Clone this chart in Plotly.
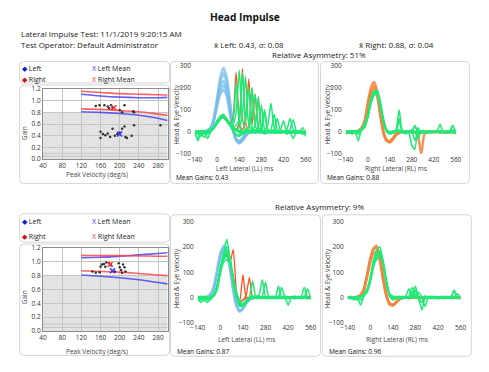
import plotly.graph_objects as go

# ---------------- DATA ----------------
T = [-140,-120,-100,-80,-60,-40,-20,0,20,40,60,80,100,120,140,160,180,200,220,240,260,280,300,320,340,360,380,400,420,440,460,480,500,520,540,560]

top_left_vel  = [160,160,165,170,175,180,185,190,195,200,205,210,212,215,225,230,285]
top_left_gain = [0.47,0.36,0.43,0.41,0.44,0.38,0.52,0.40,0.43,0.45,0.52,0.56,0.38,0.36,0.40,0.58,0.58]
top_right_vel  = [150,158,168,175,178,182,185,200,205,210,228,230]
top_right_gain = [0.91,0.92,0.92,0.90,0.87,0.92,0.88,0.84,0.80,0.92,0.82,0.80]
top_left_mean = (200, 0.43)
top_right_mean = (188, 0.88)

bot_vel  = [143,150,158,160,163,167,170,172,178,182,190,198,200,203,207,210,212,205]
bot_gain = [0.86,0.84,0.85,0.93,0.96,0.97,0.93,0.99,0.98,0.95,0.86,0.98,0.92,0.88,0.96,0.92,0.86,0.84]
bot_left_mean = (185, 0.87)
bot_right_mean = (180, 0.96)

norm_x = [120,160,200,240,280,300]
top_up_red  = [1.16,1.14,1.12,1.11,1.10,1.095]
top_up_blue = [1.11,1.08,1.06,1.05,1.05,1.055]
top_lo_red  = [0.86,0.85,0.83,0.81,0.77,0.75]
top_lo_blue = [0.81,0.80,0.78,0.75,0.70,0.66]
bot_up_red  = [1.095,1.09,1.09,1.085,1.08,1.08]
bot_up_blue = [1.06,1.065,1.08,1.10,1.12,1.13]
bot_lo_red  = [0.87,0.86,0.85,0.83,0.81,0.80]
bot_lo_blue = [0.81,0.79,0.77,0.74,0.70,0.68]

ll1_head_a = [0,0,0,1,4,15,60,150,245,290,250,150,30,-35,-50,-40,-20,-5,0,0,0,0,0,0,0,0,0,0,0,0,0,0,0,0,0,0]
ll1_head_b = [0,0,1,2,5,15,55,140,225,265,225,130,20,-38,-52,-38,-18,-4,0,0,0,0,0,0,0,0,0,0,0,0,0,0,0,0,0,0]
ll1_head_c = [0,0,0,2,6,18,60,135,205,230,195,110,15,-35,-48,-35,-15,-3,0,0,0,0,0,0,0,0,0,0,0,0,0,0,0,0,0,0]
ll1_head_d = [0,0,0,3,8,20,58,125,185,210,180,95,10,-30,-45,-30,-12,-2,0,0,0,0,0,0,0,0,0,0,0,0,0,0,0,0,0,0]
ll1_head_e = [0,0,0,2,6,18,50,115,170,190,165,85,5,-30,-40,-28,-10,-2,0,0,0,0,0,0,0,0,0,0,0,0,0,0,0,0,0,0]
ll1_sac_a = [0,0,0,0,0,5,20,45,60,65,50,30,60,270,60,0,5,0,0,0,0,0,0,0,0,0,0,0,0,0,0,0,0,0,0,0]
ll1_sac_b = [0,0,0,0,0,5,20,45,60,65,50,30,20,10,40,285,40,5,0,0,0,0,0,0,0,0,0,0,0,0,0,0,0,0,0,0]
ll1_sac_c = [0,0,0,0,0,5,20,45,60,65,50,30,20,10,5,10,60,240,30,170,20,0,0,0,0,0,0,0,0,0,0,0,0,0,0,0]
ll1_sac_d = [0,0,0,0,0,5,20,45,60,65,50,30,20,10,5,0,5,20,200,30,150,10,0,0,0,0,0,0,0,0,0,0,0,0,0,0]
ll1_eye_a = [-5,-30,0,-10,0,5,20,45,65,75,60,40,30,90,280,60,10,5,0,5,0,-5,0,5,0,-5,0,5,0,-5,0,5,0,-5,0,-5]
ll1_eye_b = [0,-10,-20,0,5,10,25,50,70,70,55,35,20,30,60,270,40,200,20,5,0,5,-10,0,5,0,-5,0,5,-10,0,0,5,0,-5,0]
ll1_eye_c = [-10,0,-5,-25,0,5,15,40,60,65,50,30,15,10,20,80,250,30,10,0,20,120,10,0,-5,5,0,-5,0,5,0,-5,0,5,0,-10]
ll1_eye_d = [5,-5,0,0,-30,0,20,40,60,70,55,35,20,10,5,0,10,20,80,170,20,0,5,30,130,20,0,-5,0,10,60,10,0,-5,0,-20]
ll1_eye_e = [0,5,-10,0,0,10,25,50,65,70,50,30,15,5,0,-10,0,5,10,30,160,15,0,5,10,80,10,0,5,0,10,55,5,0,-10,0]
ll1_eye_f = [-5,0,5,-5,0,5,20,45,60,70,55,40,20,10,-5,-10,5,20,200,30,0,0,-5,0,5,10,60,5,0,-5,0,0,-5,0,20,-10]
ll1_eye_g = [0,-5,0,5,-5,10,25,45,70,80,60,40,50,220,40,0,-5,0,5,10,0,20,100,10,0,5,0,10,50,0,-5,0,5,0,-5,0]
ll1_eye_h = [0,0,-5,0,0,5,20,40,60,75,60,35,10,-15,-20,-10,0,5,0,-5,0,5,0,-5,5,0,0,-5,0,5,-5,0,0,5,-10,-5]
ll1_eye_i = [-5,-40,0,5,-10,5,15,35,55,70,55,30,5,-10,-15,0,5,0,-5,0,5,0,90,0,0,-5,0,5,0,-5,0,-30,0,5,0,-10]

rl1_head_a = [0,0,0,2,5,15,50,130,200,225,185,90,0,-40,-48,-35,-15,-5,0,0,0,0,0,-20,-100,-10,0,0,0,0,0,0,0,0,0,0]
rl1_head_b = [0,0,0,2,5,15,45,120,185,205,170,80,-5,-38,-45,-30,-12,-4,0,0,0,0,0,0,0,0,0,0,0,0,0,0,0,0,0,0]
rl1_head_c = [0,0,0,2,6,18,45,115,170,190,160,75,-5,-35,-42,-28,-10,-3,0,0,0,0,0,0,0,0,0,0,0,0,0,0,0,0,0,0]
rl1_eye_a = [-5,0,-10,0,5,10,25,70,140,180,185,130,50,5,-5,0,10,100,0,5,0,-5,0,0,5,0,-5,0,0,5,0,-5,0,5,0,-10]
rl1_eye_b = [0,-5,0,5,-5,15,30,75,135,170,180,120,45,0,-10,-5,0,50,5,-10,0,-60,-80,20,-5,0,5,0,0,0,5,0,0,-5,0,-5]
rl1_eye_c = [-10,0,5,0,-40,10,20,60,130,175,190,140,60,10,0,5,0,10,0,0,5,0,30,-10,0,0,-5,5,0,0,35,0,5,0,30,0]
rl1_eye_d = [0,5,0,-5,0,15,35,80,150,185,175,115,40,0,-5,0,5,0,-5,0,0,10,-40,0,-5,0,0,-5,0,0,5,0,-5,0,10,-5]
rl1_eye_e = [5,0,-5,0,-10,5,20,65,125,165,170,125,55,10,0,-5,0,60,0,0,-5,0,0,-30,0,5,0,0,5,0,0,0,-5,0,25,0]
rl1_eye_f = [0,-5,0,0,5,10,30,75,145,175,180,120,45,5,-5,0,0,5,0,5,0,0,25,0,-5,0,0,5,0,0,-5,0,0,5,0,-5]

ll2_head_a = [0,0,0,2,10,35,100,170,205,195,130,40,-30,-55,-45,-25,-10,-3,0,0,0,0,0,0,0,0,0,0,0,0,0,0,0,0,0,0]
ll2_head_b = [0,0,2,5,15,45,110,175,200,180,110,25,-35,-55,-40,-20,-8,0,0,0,0,0,0,0,0,0,0,0,0,0,0,0,0,0,0,0]
ll2_head_c = [0,0,0,3,12,40,100,160,185,170,115,35,-25,-50,-42,-22,-8,-2,0,0,0,0,0,0,0,0,0,0,0,0,0,0,0,0,0,0]
ll2_sac_a = [0,0,0,0,0,10,40,110,160,170,140,190,20,-20,-10,0,0,0,0,0,0,0,0,0,0,0,0,0,0,0,0,0,0,0,0,0]
ll2_sac_b = [0,0,0,0,0,10,40,110,160,170,140,80,10,-15,90,0,0,0,0,0,0,0,0,0,0,0,0,0,0,0,0,0,0,0,0,0]
ll2_sac_c = [0,0,0,0,0,10,40,110,160,170,140,80,10,-15,-10,10,80,0,0,0,0,0,0,0,0,0,0,0,0,0,0,0,0,0,0,0]
ll2_eye_a = [-5,-20,0,-10,5,10,40,110,170,200,160,80,10,-30,-25,-10,0,5,5,10,70,5,0,5,-5,0,0,5,0,0,-5,0,0,5,0,-5]
ll2_eye_b = [0,-10,-5,0,0,15,50,120,180,230,150,70,0,-35,-30,-15,-5,0,0,5,0,0,-5,5,0,45,0,5,0,0,-5,0,0,5,-5,0]
ll2_eye_c = [-10,0,5,-5,0,5,35,100,150,165,140,75,15,-20,-35,-15,0,5,0,-5,5,60,0,-5,0,5,0,-5,0,0,5,0,0,40,0,-5]
ll2_eye_d = [0,5,-15,0,-5,10,45,115,160,175,145,60,5,-25,-30,-20,-5,0,5,0,0,-5,0,0,5,0,-5,0,-30,0,5,0,-5,0,35,0]
ll2_eye_e = [5,0,0,-20,0,10,30,95,140,150,135,70,20,-10,-25,-10,0,-5,0,0,5,0,5,0,0,-5,0,5,0,0,0,0,5,0,-5,0]
ll2_eye_f = [0,-5,0,0,-10,15,45,110,165,185,150,65,0,-30,-35,-15,0,65,0,0,-5,0,0,5,0,0,40,0,-5,0,0,5,0,0,0,-5]

rl2_head_a = [0,0,0,2,8,30,85,150,195,205,160,80,10,-25,-30,-20,-8,-2,0,0,0,0,0,0,0,0,0,0,0,0,0,0,0,0,0,0]
rl2_head_b = [0,0,0,3,10,35,90,155,190,195,150,70,5,-28,-32,-20,-8,0,0,0,0,0,0,0,0,0,0,0,0,0,0,0,0,0,0,0]
rl2_head_c = [0,0,0,2,8,28,80,140,175,180,145,70,8,-22,-28,-18,-6,0,0,0,0,0,0,0,0,0,0,0,0,0,0,0,0,0,0,0]
rl2_eye_a = [0,-5,0,5,-10,5,25,70,140,190,200,140,60,10,0,5,0,-5,0,5,40,10,-5,-50,0,5,0,-5,0,0,5,0,0,30,0,-5]
rl2_eye_b = [-5,0,0,-10,5,10,20,60,120,160,170,130,55,5,-5,0,5,0,5,35,0,30,-10,0,5,0,-5,0,0,5,0,0,-5,0,15,0]
rl2_eye_c = [0,5,-5,0,-30,5,30,75,130,150,165,135,70,15,5,0,-5,0,0,0,10,45,0,-20,0,0,5,0,-5,0,0,5,0,0,-5,0]
rl2_eye_d = [5,0,0,-5,0,15,35,80,150,175,185,125,50,5,-10,-5,0,5,0,-5,0,0,20,0,-35,0,0,5,0,0,-5,0,0,25,0,0]
rl2_eye_e = [0,0,-10,0,5,10,25,65,125,170,180,145,65,10,0,-5,0,0,5,0,25,0,0,0,5,0,0,0,-5,0,0,0,5,0,0,-5]

time_ticks = [-140,0,140,280,420,560]
vel_ticks = [-100,0,100,200,300]
pv_ticks = [40,80,120,160,200,240,280]
gain_ticks = [0.0,0.2,0.4,0.6,0.8,1.0,1.2]

# ---------------- STYLE / LAYOUT ----------------
W, H = 489, 372
def X(x): return x / W
def Y(y): return 1 - y / H

FONT = "Open Sans"
GREEN = "#1fea76"
BLUE_HEAD = "rgba(120,190,235,0.75)"
ORANGE_HEAD = "rgba(245,130,60,0.85)"
RED_SAC = "#ff5020"
HEAD_SZ = 8.0
AX_SZ = 6.5
TICK_SZ = 6.5

fig = go.Figure()

panels = {
    1: dict(x=(37,165), y=(86,158)),
    2: dict(x=(193,307), y=(62,152.7)),
    3: dict(x=(348,461), y=(62,152.7)),
    4: dict(x=(37,165), y=(249,334)),
    5: dict(x=(196,312), y=(222,325.7)),
    6: dict(x=(350,466), y=(222,325.7)),
}

def ax(n):
    return ("x" if n == 1 else f"x{n}"), ("y" if n == 1 else f"y{n}")

def lines(n, series, color, width, opacity=1.0):
    xa, ya = ax(n)
    for s in series:
        fig.add_trace(go.Scatter(x=T, y=s, mode="lines", xaxis=xa, yaxis=ya,
                                 line=dict(color=color, width=width, shape="spline", smoothing=0.5),
                                 opacity=opacity, hoverinfo="skip"))

lines(2, [ll1_head_a, ll1_head_b, ll1_head_c, ll1_head_d, ll1_head_e], BLUE_HEAD, 2.5)
lines(2, [ll1_sac_a, ll1_sac_b, ll1_sac_c, ll1_sac_d], RED_SAC, 1.3)
lines(2, [ll1_eye_a, ll1_eye_b, ll1_eye_c, ll1_eye_d, ll1_eye_e, ll1_eye_f, ll1_eye_g, ll1_eye_h, ll1_eye_i], GREEN, 1.5)
lines(3, [rl1_head_a, rl1_head_b, rl1_head_c], ORANGE_HEAD, 2.5)
lines(3, [rl1_eye_a, rl1_eye_b, rl1_eye_c, rl1_eye_d, rl1_eye_e, rl1_eye_f], GREEN, 1.5)
lines(5, [ll2_head_a, ll2_head_b, ll2_head_c], BLUE_HEAD, 2.5)
lines(5, [ll2_sac_a, ll2_sac_b, ll2_sac_c], RED_SAC, 1.3)
lines(5, [ll2_eye_a, ll2_eye_b, ll2_eye_c, ll2_eye_d, ll2_eye_e, ll2_eye_f], GREEN, 1.5)
lines(6, [rl2_head_a, rl2_head_b, rl2_head_c], ORANGE_HEAD, 2.5)
lines(6, [rl2_eye_a, rl2_eye_b, rl2_eye_c, rl2_eye_d, rl2_eye_e], GREEN, 1.5)

def gain_panel(n, up_red, up_blue, lo_red, lo_blue, pts, means):
    xa, ya = ax(n)
    for s, c in [(up_blue, "rgba(70,70,240,0.85)"), (up_red, "rgba(255,70,70,0.85)"),
                 (lo_red, "rgba(255,70,70,0.85)"), (lo_blue, "rgba(70,70,240,0.85)")]:
        fig.add_trace(go.Scatter(x=norm_x, y=s, mode="lines", xaxis=xa, yaxis=ya,
                                 line=dict(color=c, width=1.6, shape="spline"), hoverinfo="skip"))
    for vx, vy in pts:
        fig.add_trace(go.Scatter(x=vx, y=vy, mode="markers", xaxis=xa, yaxis=ya,
                                 marker=dict(symbol="circle", size=2.5, color="#333333"), hoverinfo="skip"))
    for (mx, my), c in means:
        fig.add_trace(go.Scatter(x=[mx], y=[my], mode="markers", xaxis=xa, yaxis=ya,
                                 marker=dict(symbol="x-thin", size=5, line=dict(color=c, width=1.4)),
                                 hoverinfo="skip"))

gain_panel(1, top_up_red, top_up_blue, top_lo_red, top_lo_blue,
           [(top_left_vel, top_left_gain), (top_right_vel, top_right_gain)],
           [(top_left_mean, "#3030ff"), (top_right_mean, "#ff3030")])
gain_panel(4, bot_up_red, bot_up_blue, bot_lo_red, bot_lo_blue,
           [(bot_vel, bot_gain)],
           [(bot_right_mean, "#ff3030"), (bot_left_mean, "#3030ff")])

layout = dict(width=W, height=H, margin=dict(l=0, r=0, t=0, b=0),
              paper_bgcolor="white", plot_bgcolor="white", showlegend=False,
              font=dict(family=FONT, size=7, color="#333"))
tickfont = dict(family=FONT, size=TICK_SZ, color="#333")
for n, p in panels.items():
    xk = "xaxis" if n == 1 else f"xaxis{n}"
    yk = "yaxis" if n == 1 else f"yaxis{n}"
    xa, ya = ax(n)
    xd = [X(p["x"][0]), X(p["x"][1])]
    yd = [Y(p["y"][1]), Y(p["y"][0])]
    if n in (1, 4):
        layout[xk] = dict(domain=xd, anchor=ya, range=[40, 300], tickvals=pv_ticks,
                          showgrid=True, gridcolor="#c4c4c4", gridwidth=1, zeroline=False,
                          showline=True, linecolor="#8c8c8c", linewidth=1, mirror=True,
                          ticks="", tickfont=tickfont, fixedrange=True, ticklabelstandoff=0)
        layout[yk] = dict(domain=yd, anchor=xa, range=[0, 1.2], tickvals=gain_ticks,
                          tickformat=".1f", showgrid=True, gridcolor="#c4c4c4", gridwidth=1,
                          zeroline=False, showline=True, linecolor="#8c8c8c", linewidth=1,
                          mirror=True, ticks="", tickfont=tickfont, fixedrange=True,
                          ticklabelstandoff=0)
    else:
        layout[xk] = dict(domain=xd, anchor=ya, range=[-140, 560], tickvals=time_ticks,
                          showgrid=False, zeroline=False, showline=False, ticks="",
                          tickfont=tickfont, fixedrange=True, ticklabelstandoff=0)
        layout[yk] = dict(domain=yd, anchor=xa, range=[-100, 300], tickvals=vel_ticks,
                          showgrid=False, zeroline=False, showline=False, ticks="",
                          tickfont=tickfont, fixedrange=True, ticklabelstandoff=3)
fig.update_layout(**layout)

shapes = []
def rrect(x0, y0, x1, y1, r=4, color="#d6d6d6"):
    p = (f"M {X(x0+r)},{Y(y0)} L {X(x1-r)},{Y(y0)} Q {X(x1)},{Y(y0)} {X(x1)},{Y(y0+r)} "
         f"L {X(x1)},{Y(y1-r)} Q {X(x1)},{Y(y1)} {X(x1-r)},{Y(y1)} "
         f"L {X(x0+r)},{Y(y1)} Q {X(x0)},{Y(y1)} {X(x0)},{Y(y1-r)} "
         f"L {X(x0)},{Y(y0+r)} Q {X(x0)},{Y(y0)} {X(x0+r)},{Y(y0)} Z")
    shapes.append(dict(type="path", path=p, xref="paper", yref="paper",
                       line=dict(color=color, width=1), layer="below"))

rrect(13, 58, 167, 80); rrect(13, 82, 167, 183)
rrect(168, 58, 320, 183); rrect(322, 58, 475, 183)
rrect(13, 214, 167, 243); rrect(13, 245, 167, 359)
rrect(168, 215, 322, 360); rrect(324, 215, 477, 360)

for xa, ya in [("x", "y"), ("x4", "y4")]:
    shapes.append(dict(type="rect", xref=xa, yref=ya, x0=40, x1=300, y0=0, y1=0.8,
                       fillcolor="#e3e3e3", line=dict(width=0), layer="below"))
    for yv in (0.05, 0.1):
        shapes.append(dict(type="line", xref=xa, yref=ya, x0=40, x1=300, y0=yv, y1=yv,
                           line=dict(color="#c4c4c4", width=1), layer="below"))
fig.update_layout(shapes=shapes)

def txt(x, y, s, size=7, color="#333", anchor="left", angle=0, bold=False):
    if bold:
        s = f"<b>{s}</b>"
    fig.add_annotation(x=X(x), y=Y(y), xref="paper", yref="paper", text=s, showarrow=False,
                       xanchor=anchor, yanchor="middle", textangle=angle, borderpad=0,
                       font=dict(family=FONT, size=size, color=color))

txt(245, 12, "Head Impulse", size=10.2, color="#111", anchor="center", bold=True)
txt(13, 29.5, "Lateral Impulse Test: 11/1/2019 9:20:15 AM", size=HEAD_SZ, color="#222")
txt(13, 40, "Test Operator: Default Administrator", size=HEAD_SZ, color="#222")
txt(212, 40, "x̄ Left: 0.43, σ: 0.08", size=HEAD_SZ, color="#222")
txt(361, 40, "x̄ Right: 0.88, σ: 0.04", size=HEAD_SZ, color="#222")
txt(321, 51, "Relative Asymmetry: 51%", size=HEAD_SZ, color="#222", anchor="center")
txt(321, 206, "Relative Asymmetry: 9%", size=HEAD_SZ, color="#222", anchor="center")

def legend(y1, y2):
    txt(14, y1, '<span style="color:#0a1fd0">◆</span> Left', size=7, color="#222")
    txt(14, y2, '<span style="color:#d01010">◆</span> Right', size=7, color="#222")
    txt(86, y1, '<span style="color:#3535ff">X</span> Left Mean', size=7, color="#222")
    txt(86, y2, '<span style="color:#ff3535">X</span> Right Mean', size=7, color="#222")
legend(65, 76)
legend(222, 237)

txt(18, 132, "Gain", anchor="center", angle=-90, size=AX_SZ, color="#444")
txt(18, 300, "Gain", anchor="center", angle=-90, size=AX_SZ, color="#444")
txt(92, 174, "Peak Velocity (deg/s)", anchor="center", size=AX_SZ, color="#444")
txt(92, 355, "Peak Velocity (deg/s)", anchor="center", size=AX_SZ, color="#444")
txt(174, 112, "Head &amp; Eye Velocity", anchor="center", angle=-90, size=AX_SZ, color="#444")
txt(329, 112, "Head &amp; Eye Velocity", anchor="center", angle=-90, size=AX_SZ, color="#444")
txt(174, 280, "Head &amp; Eye Velocity", anchor="center", angle=-90, size=AX_SZ, color="#444")
txt(329, 280, "Head &amp; Eye Velocity", anchor="center", angle=-90, size=AX_SZ, color="#444")
txt(244, 168, "Left Lateral (LL) ms", anchor="center", size=AX_SZ, color="#444")
txt(400, 168, "Right Lateral (RL) ms", anchor="center", size=AX_SZ, color="#444")
txt(246, 343, "Left Lateral (LL) ms", anchor="center", size=AX_SZ, color="#444")
txt(401, 343, "Right Lateral (RL) ms", anchor="center", size=AX_SZ, color="#444")
txt(173, 177, "Mean Gains: 0.43", size=6.5, color="#111")
txt(328, 177, "Mean Gains: 0.88", size=6.5, color="#111")
txt(174, 355, "Mean Gains: 0.87", size=6.5, color="#111")
txt(330, 355, "Mean Gains: 0.96", size=6.5, color="#111")

fig.write_html("out.html", config={"displayModeBar": False},
               post_script="document.body.style.margin='0';document.body.style.overflow='hidden';")
